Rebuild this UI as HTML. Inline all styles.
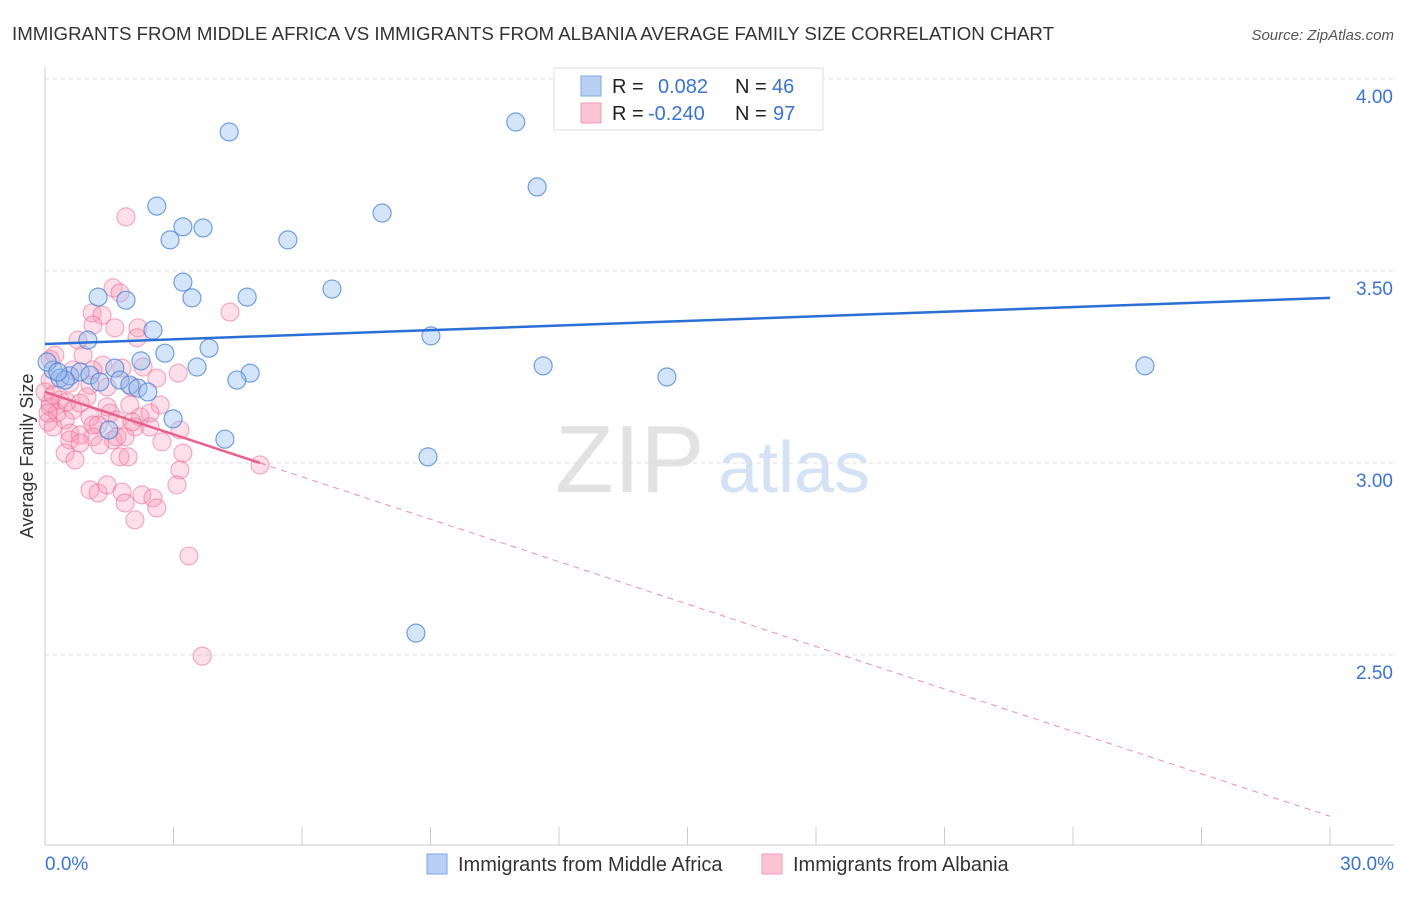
<!DOCTYPE html>
<html><head><meta charset="utf-8"><style>
body{margin:0;background:#fff;font-family:"Liberation Sans",sans-serif}
svg text{font-family:"Liberation Sans",sans-serif}
</style></head><body>
<svg id="c" width="1406" height="892">
<text x="12" y="40" font-size="18.5" fill="#333" textLength="1042" lengthAdjust="spacingAndGlyphs">IMMIGRANTS FROM MIDDLE AFRICA VS IMMIGRANTS FROM ALBANIA AVERAGE FAMILY SIZE CORRELATION CHART</text>
<text x="1394" y="40" font-size="15" fill="#555" font-style="italic" text-anchor="end">Source: ZipAtlas.com</text>
<text x="33" y="456" font-size="18" fill="#333" text-anchor="middle" transform="rotate(-90 33 456)">Average Family Size</text>
<text x="555" y="492" font-size="96" fill="#e2e2e2" font-family="Liberation Serif">ZIP</text>
<text x="718" y="492" font-size="72" fill="#d3e2f4">atlas</text>
<g id="grid"></g><g id="axes"></g><g id="pts"></g><g id="trend"></g>
<g>
<rect x="554" y="68" width="269" height="62" fill="#fff" stroke="#ddd"/>
<rect x="581" y="76" width="20" height="20" fill="#b8d0f4" stroke="#7da6e3"/>
<rect x="581" y="103" width="20" height="20" fill="#fbc4d4" stroke="#f09ab5"/>
<text x="612" y="93" font-size="20" fill="#222">R = </text><text x="658" y="93" font-size="20" fill="#3a73d0">0.082</text>
<text x="735" y="93" font-size="20" fill="#222">N = </text><text x="772" y="93" font-size="20" fill="#3a73d0">46</text>
<text x="612" y="120" font-size="20" fill="#222">R = </text><text x="648" y="120" font-size="20" fill="#3a73d0">-0.240</text>
<text x="735" y="120" font-size="20" fill="#222">N = </text><text x="773" y="120" font-size="20" fill="#3a73d0">97</text>
</g>
<g>
<rect x="427" y="854" width="20" height="20" fill="#b8d0f4" stroke="#7da6e3"/>
<text x="458" y="871" font-size="20" fill="#333">Immigrants from Middle Africa</text>
<rect x="762" y="854" width="20" height="20" fill="#fbc4d4" stroke="#f09ab5"/>
<text x="793" y="871" font-size="20" fill="#333">Immigrants from Albania</text>
</g>
</svg>
<script>
const blueX=[4.30,10.99,11.49,2.61,3.22,3.69,2.92,5.67,7.87,3.22,1.89,1.24,3.43,4.72,6.70,2.52,1.00,9.01,2.80,3.83,2.24,1.63,3.55,4.79,4.48,11.63,14.52,25.68,0.19,0.35,0.58,0.82,1.75,1.98,2.17,2.40,2.99,4.20,1.49,8.94,8.66,0.05,0.47,1.05,1.28,0.30];
const blueY=[3.862,3.888,3.719,3.669,3.615,3.612,3.581,3.581,3.651,3.471,3.424,3.432,3.430,3.432,3.453,3.346,3.320,3.331,3.286,3.299,3.266,3.247,3.250,3.234,3.216,3.253,3.224,3.253,3.242,3.221,3.227,3.237,3.216,3.203,3.195,3.185,3.115,3.062,3.086,3.016,2.557,3.263,3.216,3.229,3.211,3.237];
const pinkX=[1.59,1.75,1.10,1.33,1.12,1.63,2.17,2.15,0.77,0.23,0.89,1.35,1.80,2.29,4.32,2.61,3.11,1.12,0.65,0.12,0.58,1.05,1.45,2.03,0.35,0.12,0.28,0.65,1.45,1.52,1.98,2.69,0.07,0.47,1.05,1.68,2.22,2.45,1.24,2.10,3.15,0.19,0.58,0.82,1.12,2.03,1.12,1.59,1.87,2.45,0.58,0.82,0.47,0.70,1.28,1.68,2.73,1.75,1.94,3.22,3.15,3.08,1.05,1.24,1.45,1.80,2.26,2.52,1.87,2.61,2.10,5.02,0.12,0.00,0.19,0.51,0.82,0.98,0.07,1.89,3.36,3.67,0.12];
const pinkY=[3.456,3.443,3.391,3.385,3.359,3.352,3.352,3.326,3.320,3.281,3.281,3.255,3.247,3.250,3.393,3.221,3.234,3.242,3.242,3.216,3.208,3.203,3.198,3.198,3.164,3.146,3.130,3.138,3.146,3.130,3.151,3.151,3.107,3.112,3.120,3.112,3.120,3.130,3.099,3.094,3.086,3.094,3.078,3.073,3.099,3.107,3.068,3.060,3.068,3.094,3.060,3.052,3.026,3.008,3.047,3.068,3.055,3.016,3.016,3.026,2.982,2.943,2.930,2.922,2.943,2.924,2.917,2.909,2.896,2.883,2.852,2.995,3.156,3.185,3.177,3.159,3.156,3.172,3.130,3.641,2.758,2.497,3.270];
const yTicks=[4.00,3.50,3.00,2.50];
const xTickLabels=["0.0%","30.0%"];
const blueTrend=[3.310,3.430];
const pinkTrend=[3.185,2.080];
const pinkSolidEnd=5.02;

const X=v=>45+v/30*1285, Y=v=>79+(4-v)*384;
const NS="http://www.w3.org/2000/svg";
function mk(tag,attrs,parent){const e=document.createElementNS(NS,tag);for(const k in attrs)e.setAttribute(k,attrs[k]);document.getElementById(parent).appendChild(e);return e;}
yTicks.forEach(t=>{
  const l=mk('line',{x1:45,x2:1394,y1:Y(t),y2:Y(t),stroke:'#ddd','stroke-dasharray':'4 4'},'grid');
  
  
  const tx=mk('text',{x:1393,y:Y(t)+24,'font-size':19,fill:'#3a73d0','text-anchor':'end'},'grid');
  tx.textContent=t.toFixed(2);
  
  
});
const ax=mk('line',{x1:45,x2:45,y1:67,y2:845,stroke:'#ccc'},'axes');


const bx=mk('line',{x1:45,x2:1394,y1:845,y2:845,stroke:'#ccc'},'axes');


for(let i=0;i<=10;i++){
  const t=mk('line',{x1:X(i*3),x2:X(i*3),y1:827,y2:845,stroke:'#ccc'},'axes');
  
  
}
[[0,'start',45],[30,'end',1394]].forEach((d,i)=>{
  const t=mk('text',{x:d[2],y:870,'font-size':19,fill:'#3a73d0','text-anchor':d[1]},'axes');
  t.textContent=xTickLabels[i];
  
  
});
pinkX.forEach((x,i)=>{
  const c=mk('circle',{cx:X(x),cy:Y(pinkY[i]),r:9,fill:'rgba(246,150,180,0.3)',stroke:'rgba(236,110,150,0.55)','stroke-width':1.2},'pts');
  
  
});
blueX.forEach((x,i)=>{
  const c=mk('circle',{cx:X(x),cy:Y(blueY[i]),r:9,fill:'rgba(150,190,240,0.4)',stroke:'rgba(70,130,215,0.75)','stroke-width':1.2},'pts');
  
  
});
const bt=mk('line',{x1:X(0),y1:Y(blueTrend[0]),x2:X(30),y2:Y(blueTrend[1]),stroke:'#2a6fd6','stroke-width':2.5},'trend');


const py=x=>pinkTrend[0]+(pinkTrend[1]-pinkTrend[0])*x/30;
const ps=mk('line',{x1:X(0),y1:Y(py(0)),x2:X(pinkSolidEnd),y2:Y(py(pinkSolidEnd)),stroke:'#e8608c','stroke-width':2.5},'trend');


const pd=mk('line',{x1:X(pinkSolidEnd),y1:Y(py(pinkSolidEnd)),x2:X(30),y2:Y(py(30)),stroke:'#e8608c','stroke-width':1,'stroke-dasharray':'6 5','opacity':0.7},'trend');


</script>
</body></html>
